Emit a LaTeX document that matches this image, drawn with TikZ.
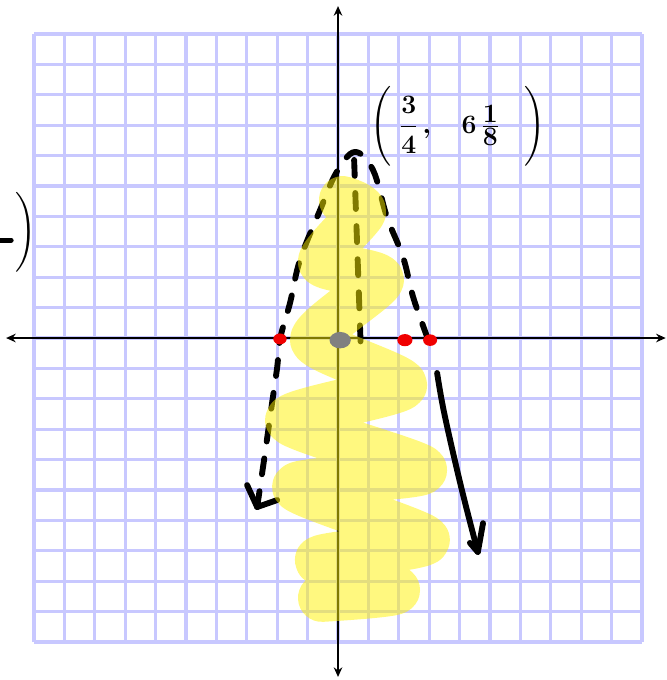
\documentclass[tikz,border=0pt]{standalone}
\usepackage{amsmath}
\usetikzlibrary{arrows.meta}
\definecolor{gridc}{RGB}{200,200,255}
\definecolor{blobgray}{RGB}{128,128,128}
\definecolor{dotred}{RGB}{240,0,0}
\begin{document}
\begin{tikzpicture}[
  gridline/.style={draw=gridc, line width=3pt},
  axisline/.style={draw=black, line width=2.6pt, {Stealth[length=9pt,width=8pt]}-{Stealth[length=9pt,width=8pt]}},
  pen/.style={draw=black, line width=5.5pt, line cap=round, line join=round},
  dashpen/.style={pen, dash pattern=on 15pt off 16pt},
  highlight/.style={draw=yellow, line width=44.8pt, line cap=round, line join=round, draw opacity=0.5},
  reddot/.style={fill=dotred},
  hand/.style={font=\fontsize{36}{44}\selectfont\boldmath, inner sep=0pt}
]
\useasboundingbox (-11.12,-11.25) rectangle (10.82,11.12);
% grid
\draw[gridline] (-10,-10) grid (10,10);
% axes
\coordinate (xl) at (-10.92,0);
\coordinate (xr) at (10.78,0);
\coordinate (yt) at (0,10.92);
\coordinate (yb) at (0,-11.15);
\draw[axisline] (xl) -- (xr);
\draw[axisline] (yb) -- (yt);
% parabola (dashed part, from left arrow end over the vertex)
\draw[dashpen] plot[smooth, tension=0.6] coordinates {(-2.66,-5.56) (-2.4,-3.78) (-2.17,-2.14) (-2.0,-0.95) (-1.9,0) (-1.58,1.15) (-1.25,2.57) (-0.59,4.21) (-0.05,5.45) (0.55,6.12) (1.15,5.53) (1.61,3.98) (2.14,2.66) (2.47,1.35) (2.93,0.03) (3.05,-0.4)};
% right branch (solid part)
\draw[pen] plot[smooth, tension=0.6] coordinates {(3.26,-1.15) (3.5,-2.5) (4.05,-4.9) (4.6,-7.04)};
% arrowheads drawn by hand
\coordinate (ltip) at (-2.66,-5.56);
\coordinate (la) at (-2.99,-4.84);
\coordinate (lb) at (-2.0,-5.33);
\draw[pen] (la) -- (ltip) -- (lb);
\coordinate (rtip) at (4.6,-7.04);
\coordinate (ra) at (4.34,-6.74);
\coordinate (rb) at (4.77,-6.09);
\draw[pen] (ra) -- (rtip) -- (rb);
% axis of symmetry
\coordinate (ast) at (0.53,5.86);
\coordinate (asb) at (0.76,-0.66);
\draw[dashpen] (ast) -- (asb);
% yellow highlight scribble
\draw[highlight] plot[smooth, tension=0.35] coordinates {(0.16,4.54) (0.79,4.14) (-0.53,2.50) (1.38,1.91) (-0.79,-0.07) (2.14,-1.55) (-1.61,-2.70) (2.80,-4.34) (-1.38,-4.90) (2.89,-6.64) (-0.63,-7.30) (1.91,-8.29) (-0.53,-8.55)};
% x-intercept dots and origin blob
\fill[reddot] (-1.91,-0.03) ellipse [x radius=0.22, y radius=0.18];
\fill[reddot] (2.2,-0.07) ellipse [x radius=0.25, y radius=0.2];
\fill[reddot] (3.03,-0.07) ellipse [x radius=0.23, y radius=0.19];
\fill[blobgray] (0.07,-0.07) ellipse [x radius=0.35, y radius=0.27];
% labels
\node[hand] (vlabel) at (3.95,6.95) {$\Bigg(\;\dfrac{3}{4}\,,\;\;\;6\,\tfrac{1}{8}\;\;\;\Bigg)$};
\node[hand] (leftpar) at (-10.25,3.49) {$\Bigg)$};
\coordinate (bara) at (-11.2,3.22);
\coordinate (barb) at (-10.75,3.22);
\draw[pen, line width=4.5pt] (bara) -- (barb);
\end{tikzpicture}
\end{document}
